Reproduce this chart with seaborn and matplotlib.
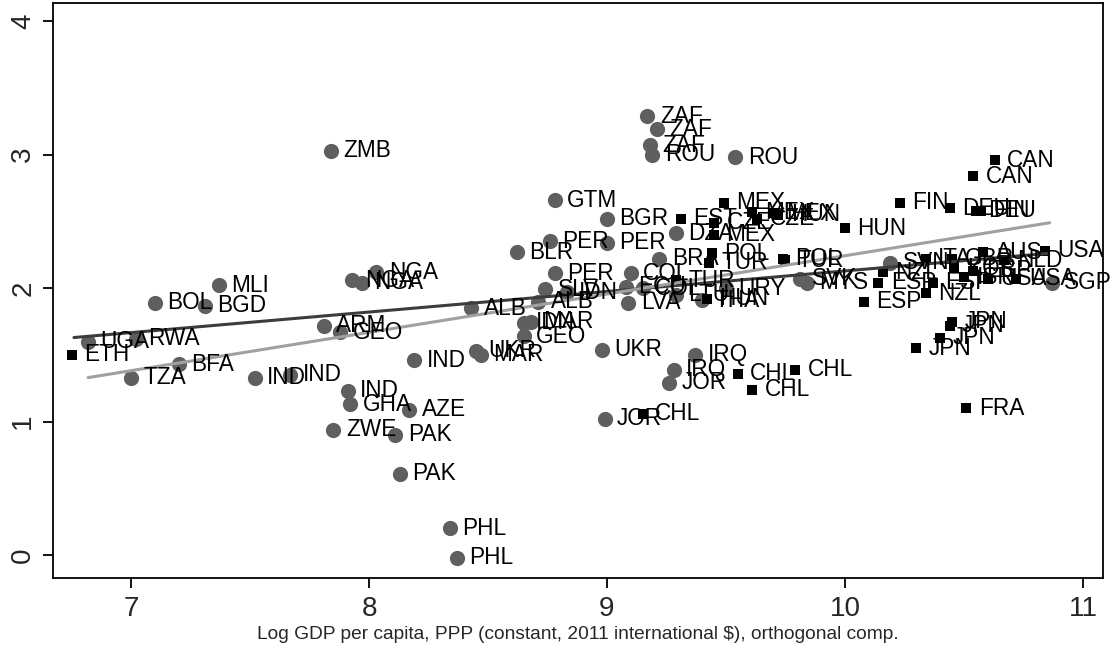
import pandas as pd
import matplotlib
matplotlib.use("Agg")
import matplotlib.pyplot as plt
import seaborn as sns

# Circle markers (gray)
circ_codes = ["ZMB", "ZAF", "ZAF", "ZAF", "ROU", "ROU", "GTM", "BGR", "PER", "PER",
              "BLR", "DZA", "BRA", "PER", "COL", "MLI", "BOL", "BGD", "NGA", "NGA",
              "NGA", "UGA", "RWA", "TZA", "BFA", "IND", "IND", "ARM", "GEO", "IND",
              "GHA", "AZE", "ZWE", "PAK", "PAK", "PHL", "PHL", "IND", "UKR", "MAR",
              "ALB", "UKR", "IDN", "MAR", "GEO", "ALB", "SLV", "IDN", "LVA", "ECU",
              "COL", "LTU", "THA", "URY", "SVK", "MYS", "SVN", "SGP", "IRQ", "IRQ",
              "JOR", "JOR"]
circ_x = [7.84, 9.17, 9.21, 9.18, 9.19, 9.54, 8.78, 9.00, 8.76, 9.00,
          8.62, 9.29, 9.22, 8.78, 9.10, 7.37, 7.10, 7.31, 7.93, 7.97,
          8.03, 6.82, 7.02, 7.00, 7.20, 7.52, 7.67, 7.81, 7.88, 7.91,
          7.92, 8.17, 7.85, 8.11, 8.13, 8.34, 8.37, 8.19, 8.45, 8.47,
          8.43, 8.98, 8.65, 8.68, 8.65, 8.71, 8.74, 8.83, 9.09, 9.08,
          9.15, 9.29, 9.40, 9.50, 9.81, 9.84, 10.19, 10.87, 9.37, 9.28,
          9.26, 8.99]
circ_y = [3.03, 3.29, 3.19, 3.07, 3.00, 2.98, 2.66, 2.52, 2.35, 2.34,
          2.27, 2.41, 2.22, 2.11, 2.11, 2.02, 1.89, 1.87, 2.06, 2.04,
          2.12, 1.60, 1.62, 1.33, 1.43, 1.33, 1.35, 1.72, 1.67, 1.23,
          1.13, 1.09, 0.94, 0.90, 0.61, 0.20, -0.02, 1.46, 1.53, 1.50,
          1.85, 1.54, 1.74, 1.75, 1.64, 1.90, 1.99, 1.97, 1.89, 2.01,
          2.00, 1.95, 1.91, 2.00, 2.07, 2.04, 2.19, 2.04, 1.50, 1.39,
          1.29, 1.02]

# Square markers (black)
sq_codes = ["ETH", "EST", "CZE", "MEX", "MEX", "MEX", "CZE", "MEX", "HUN", "HUN",
            "POL", "TUR", "POL", "TUR", "TUR", "HUN", "FIN", "DEU", "DEU", "FIN",
            "CAN", "CAN", "USA", "AUS", "NLD", "ITA", "GBR", "KOR", "ESP", "ISR",
            "USA", "USA", "NZL", "ESP", "ESP", "NZL", "ESP", "JPN", "JPN", "JPN",
            "JPN", "FRA", "CHL", "CHL", "CHL", "CHL"]
sq_x = [6.75, 9.31, 9.45, 9.49, 9.45, 9.61, 9.63, 9.70, 9.72, 10.00,
        9.44, 9.43, 9.74, 9.75, 9.29, 9.42, 10.23, 10.44, 10.55, 10.57,
        10.63, 10.54, 10.84, 10.58, 10.67, 10.34, 10.45, 10.46, 10.54, 10.50,
        10.60, 10.72, 10.16, 10.14, 10.08, 10.34, 10.37, 10.45, 10.44, 10.40,
        10.30, 10.51, 9.55, 9.79, 9.61, 9.15]
sq_y = [1.50, 2.52, 2.49, 2.64, 2.40, 2.57, 2.52, 2.56, 2.55, 2.45,
        2.26, 2.19, 2.22, 2.21, 2.06, 1.92, 2.64, 2.60, 2.58, 2.58,
        2.96, 2.84, 2.28, 2.27, 2.21, 2.22, 2.22, 2.15, 2.13, 2.08,
        2.07, 2.07, 2.12, 2.04, 1.90, 1.96, 2.04, 1.75, 1.72, 1.63,
        1.55, 1.10, 1.36, 1.39, 1.24, 1.06]

# fitted lines (end points)
dark_x = [6.76, 10.85]
dark_y = [1.63, 2.26]
gray_x = [6.82, 10.86]
gray_y = [1.33, 2.49]

circ = pd.DataFrame({"code": circ_codes, "x": circ_x, "y": circ_y})
sq = pd.DataFrame({"code": sq_codes, "x": sq_x, "y": sq_y})

sns.set_style("ticks")
plt.rcParams["font.family"] = ["Liberation Sans", "DejaVu Sans"]

fig = plt.figure(figsize=(11.11, 6.48), dpi=100)
ax = fig.add_axes([0.0477, 0.108, 0.945, 0.887])

sns.scatterplot(data=circ, x="x", y="y", ax=ax, color="#5f5f5f", marker="o",
                s=120, linewidth=0, zorder=3)
sns.scatterplot(data=sq, x="x", y="y", ax=ax, color="black", marker="s",
                s=62, linewidth=0, zorder=3)

sns.lineplot(x=dark_x, y=dark_y, ax=ax, color="#3c3c3c", linewidth=2.2, zorder=4)
sns.lineplot(x=gray_x, y=gray_y, ax=ax, color="#a0a0a0", linewidth=2.2, zorder=4)

for df in (circ, sq):
    for _, r in df.iterrows():
        ax.annotate(r["code"], (r["x"], r["y"]), xytext=(9, 0),
                    textcoords="offset points", va="center", ha="left",
                    fontsize=16.3, color="black", zorder=5)

ax.set_xlim(6.672, 11.084)
ax.set_ylim(-0.172, 4.135)
ax.set_xticks([7, 8, 9, 10, 11])
ax.set_yticks([0, 1, 2, 3, 4])
ax.tick_params(axis="both", labelsize=20, length=7, width=1.3, color="black")
ax.tick_params(axis="x", pad=6)
ax.tick_params(axis="y", labelrotation=90, pad=5)
for lab in ax.get_yticklabels():
    lab.set_va("center")
for sp in ax.spines.values():
    sp.set_visible(True)
    sp.set_color("black")
    sp.set_linewidth(1.3)

ax.set_xlabel("Log GDP per capita, PPP (constant, 2011 international $), orthogonal comp.",
              fontsize=13.8, labelpad=3)
ax.set_ylabel("")

fig.savefig("out.png", dpi=100)
